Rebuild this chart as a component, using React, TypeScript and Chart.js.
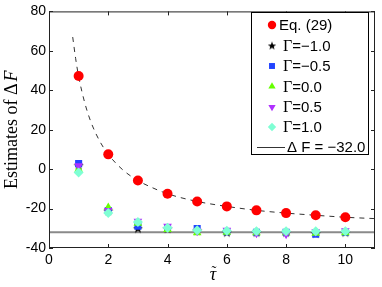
import React, { useEffect, useRef } from "react";
import { Chart, registerables } from "chart.js";
import { drawPoint } from "chart.js/helpers";

Chart.register(...registerables);

// ---- data ----
const tau = [1, 2, 3, 4, 5, 6, 7, 8, 9, 10];
const eq29 = [47.2, 7.5, -5.8, -12.5, -16.4, -18.9, -20.9, -22.3, -23.4, -24.4];
const gammaM10 = [2.0, -21.0, -30.0, -30.0, -31.0, -32.0, -32.0, -32.0, -32.5, -32.0];
const gammaM05 = [2.8, -21.0, -29.0, -30.0, -30.1, -31.8, -32.0, -32.0, -33.0, -32.0];
const gamma00 = [0.0, -19.4, -27.5, -30.6, -32.3, -32.0, -32.3, -32.3, -32.5, -32.3];
const gamma05 = [1.7, -21.0, -26.4, -29.0, -31.5, -31.0, -32.5, -33.0, -31.8, -31.2];
const gamma10 = [-1.7, -22.3, -26.8, -29.7, -31.0, -31.3, -31.5, -31.5, -31.5, -31.5];

const curveX = [0.8, 0.9, 1.0, 1.2, 1.4, 1.7, 2.0, 2.5, 3.0, 3.5, 4.0, 5.0, 6.0, 7.0, 8.0, 9.0, 10.0, 11.0];
const curveY = [67, 56, 47, 34, 24.5, 14.5, 7.5, -0.5, -5.8, -9.5, -12.5, -16.4, -18.9, -20.9, -22.3, -23.4, -24.4, -25.1];

const refX = [0, 11];
const refValue = -32.0;

const xTicks = [0, 2, 4, 6, 8, 10];
const yTicks = [-40, -20, 0, 20, 40, 60, 80];

const legendLabels = ["Eq. (29)", "=\u22121.0", "=\u22120.5", "=0.0", "=0.5", "=1.0", "\u0394 F = \u221232.0"];

const SANS = "'Liberation Sans', Arial, Helvetica, sans-serif";
const SERIF = "'Liberation Serif', 'Times New Roman', serif";

function makeStar(r1: number, r2: number): HTMLCanvasElement {
  const size = Math.ceil(r1 * 2 + 1);
  const c = document.createElement("canvas");
  c.width = size;
  c.height = size;
  const g = c.getContext("2d")!;
  g.fillStyle = "#000";
  g.beginPath();
  for (let i = 0; i < 10; i++) {
    const r = i % 2 === 0 ? r1 : r2;
    const a = -Math.PI / 2 + (i * Math.PI) / 5;
    const px = size / 2 + r * Math.cos(a);
    const py = size / 2 + 0.5 + r * Math.sin(a);
    if (i === 0) g.moveTo(px, py);
    else g.lineTo(px, py);
  }
  g.closePath();
  g.fill();
  return c;
}

export default function App() {
  const ref = useRef<HTMLCanvasElement | null>(null);

  useEffect(() => {
    document.body.style.margin = "0";
    const canvas = ref.current!;
    const star = makeStar(5.2, 2.1);
    const starSmall = makeStar(4.4, 1.8);

    const markers = [
      { data: eq29, color: "#ff0000", style: "circle" as any, legendStyle: "circle" as any, radius: 5, rotation: 0 },
      { data: gammaM10, color: "#000000", style: star as any, legendStyle: starSmall as any, radius: 5, rotation: 0 },
      { data: gammaM05, color: "#2244ff", style: "rect" as any, legendStyle: "rect" as any, radius: 5, rotation: 0 },
      { data: gamma00, color: "#66ff00", style: "triangle" as any, legendStyle: "triangle" as any, radius: 5, rotation: 0 },
      { data: gamma05, color: "#b030ff", style: "triangle" as any, legendStyle: "triangle" as any, radius: 5, rotation: 180 },
      { data: gamma10, color: "#7fffd4", style: "rectRot" as any, legendStyle: "rectRot" as any, radius: 5, rotation: 0 },
    ];

    const datasets: any[] = [
      {
        data: refX.map((x) => ({ x, y: refValue })),
        showLine: true,
        borderColor: "#8a8a8a",
        borderWidth: 1.8,
        pointRadius: 0,
        order: 20,
      },
      {
        data: curveX.map((x, i) => ({ x, y: curveY[i] })),
        showLine: true,
        borderColor: "#333333",
        borderWidth: 1,
        borderDash: [5, 5],
        pointRadius: 0,
        cubicInterpolationMode: "monotone",
        order: 19,
      },
      ...markers.map((m, k) => ({
        data: tau.map((x, i) => ({ x, y: m.data[i] })),
        showLine: false,
        pointStyle: m.style,
        pointRadius: m.radius,
        pointRotation: m.rotation,
        backgroundColor: m.color,
        borderColor: m.color,
        borderWidth: 0,
        order: 10 - k,
      })),
    ];

    const decor = {
      id: "decor",
      afterDraw(chart: any) {
        const ctx = chart.ctx as CanvasRenderingContext2D;
        const a = chart.chartArea;
        const xs = chart.scales.x;
        const ys = chart.scales.y;
        ctx.save();
        // frame
        ctx.strokeStyle = "#222";
        ctx.lineWidth = 1;
        ctx.strokeRect(a.left + 0.5, a.top + 0.5, a.right - a.left - 1, a.bottom - a.top - 1);
        // inward ticks
        ctx.beginPath();
        const tl = 4;
        xTicks.forEach((v) => {
          const px = Math.round(xs.getPixelForValue(v)) + 0.5;
          ctx.moveTo(px, a.bottom);
          ctx.lineTo(px, a.bottom - tl);
          ctx.moveTo(px, a.top);
          ctx.lineTo(px, a.top + tl);
        });
        yTicks.forEach((v) => {
          const py = Math.round(ys.getPixelForValue(v)) + 0.5;
          ctx.moveTo(a.left, py);
          ctx.lineTo(a.left + tl, py);
          ctx.moveTo(a.right, py);
          ctx.lineTo(a.right - tl, py);
        });
        ctx.stroke();

        // y title
        ctx.fillStyle = "#000";
        ctx.save();
        ctx.translate(17, (a.top + a.bottom) / 2);
        ctx.rotate(-Math.PI / 2);
        ctx.textBaseline = "alphabetic";
        ctx.textAlign = "left";
        const parts = [
          { t: "Estimates of ", f: `18px ${SERIF}` },
          { t: "\u0394", f: `18px ${SERIF}` },
          { t: "F", f: `italic 18px ${SERIF}` },
        ];
        let total = 0;
        parts.forEach((p) => {
          ctx.font = p.f;
          total += ctx.measureText(p.t).width + (p.t === "\u0394" ? 2 : 0);
        });
        let cx = -total / 2;
        parts.forEach((p) => {
          ctx.font = p.f;
          ctx.fillText(p.t, cx, 0);
          cx += ctx.measureText(p.t).width + (p.t === "\u0394" ? 2 : 0);
        });
        ctx.restore();

        // x title
        ctx.font = `italic 18px ${SERIF}`;
        ctx.textAlign = "center";
        ctx.textBaseline = "alphabetic";
        ctx.fillText("\u03c4", 213, 280);
        ctx.font = `15px ${SERIF}`;
        ctx.fillText("\u02dc", 214, 276);

        // legend
        const L = 251, T = 12, R = 369, B = 155;
        ctx.fillStyle = "#fff";
        ctx.fillRect(L, T, R - L, B - T);
        ctx.strokeStyle = "#000";
        ctx.lineWidth = 1;
        ctx.strokeRect(L + 0.5, T + 0.5, R - L - 1, B - T - 1);
        const rowY = [25, 45.5, 66, 86.5, 107, 127, 147];
        markers.forEach((m, i) => {
          ctx.fillStyle = m.color;
          ctx.strokeStyle = m.color;
          drawPoint(ctx, { pointStyle: m.legendStyle, radius: 4.2, rotation: m.rotation, borderWidth: 0 } as any, 272, rowY[i]);
        });
        ctx.fillStyle = "#000";
        ctx.textAlign = "left";
        ctx.textBaseline = "middle";
        const fs = 15;
        ctx.font = `${fs}px ${SANS}`;
        ctx.fillText(legendLabels[0], 279, rowY[0] + 1);
        for (let i = 1; i <= 5; i++) {
          ctx.font = `16px ${SERIF}`;
          ctx.fillText("\u0393", 283, rowY[i] + 1);
          const w = ctx.measureText("\u0393").width;
          ctx.font = `${fs}px ${SANS}`;
          ctx.fillText(legendLabels[i], 283 + w, rowY[i] + 1);
        }
        ctx.strokeStyle = "#000";
        ctx.lineWidth = 0.8;
        ctx.beginPath();
        ctx.moveTo(257, Math.round(rowY[6]) + 0.5);
        ctx.lineTo(285, Math.round(rowY[6]) + 0.5);
        ctx.stroke();
        ctx.font = `${fs}px ${SANS}`;
        ctx.fillText(legendLabels[6], 287, rowY[6] + 1);
        ctx.restore();
      },
    };

    const chart = new Chart(canvas, {
      type: "scatter",
      data: { datasets },
      options: {
        responsive: false,
        animation: false,
        layout: { padding: { top: 9, right: 7, left: 0, bottom: 0 } },
        plugins: { legend: { display: false }, tooltip: { enabled: false } },
        scales: {
          x: {
            type: "linear",
            min: 0,
            max: 11,
            grid: { display: false, drawTicks: false },
            border: { display: false },
            afterBuildTicks: (s: any) => {
              s.ticks = xTicks.map((v) => ({ value: v }));
            },
            afterFit: (s: any) => {
              s.height = 39;
            },
            ticks: { color: "#000", font: { family: SANS, size: 14 }, padding: 4, maxRotation: 0 },
          },
          y: {
            type: "linear",
            min: -40,
            max: 80,
            grid: { display: false, drawTicks: false },
            border: { display: false },
            afterBuildTicks: (s: any) => {
              s.ticks = yTicks.map((v) => ({ value: v }));
            },
            afterFit: (s: any) => {
              s.width = 49;
            },
            ticks: { color: "#000", font: { family: SANS, size: 14 }, padding: 3 },
          },
        },
      },
      plugins: [decor],
    });
    return () => chart.destroy();
  }, []);

  return (
    <div style={{ width: 382, height: 287, background: "#fff" }}>
      <canvas ref={ref} width={382} height={287} style={{ width: 382, height: 287, display: "block" }} />
    </div>
  );
}
